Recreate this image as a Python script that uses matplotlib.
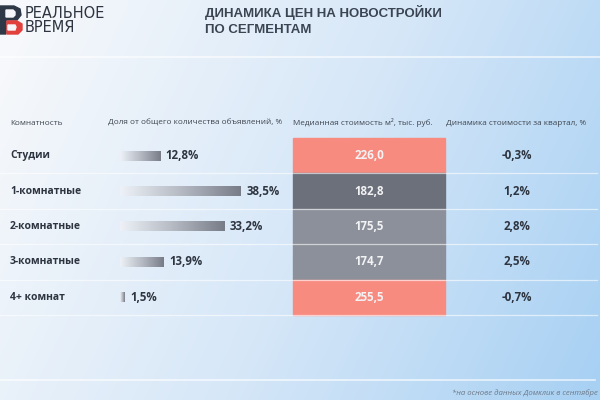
import numpy as np
import matplotlib.pyplot as plt
from matplotlib.colors import LinearSegmentedColormap
from matplotlib.patches import Polygon

# data
rooms = ['Студии', '1-комнатные', '2-комнатные', '3-комнатные', '4+ комнат']
share = [12.8, 38.5, 33.2, 13.9, 1.5]
price = [226.0, 182.8, 175.5, 174.7, 255.5]
change = [-0.3, 1.2, 2.8, 2.5, -0.7]
price_colors = ['#f88b80', '#6b707b', '#8b909a', '#8b909a', '#f88b80']

headers = ['Комнатность', 'Доля от общего количества объявлений, %',
           'Медианная стоимость м², тыс. руб.', 'Динамика стоимости за квартал, %']

def fmt(v, d=1):
    return f'{v:.{d}f}'.replace('.', ',')

plt.rcParams['font.family'] = ['Open Sans', 'DejaVu Sans']
dark = '#2e3540'

fig = plt.figure(figsize=(6, 4), dpi=100)

# background gradient
bg = fig.add_axes([0, 0, 1, 1])
xx, yy = np.meshgrid(np.linspace(0, 1, 300), np.linspace(0, 1, 200))
t = np.clip(0.8 * xx + 0.25 * yy - 0.05, 0, 1)
bg_cmap = LinearSegmentedColormap.from_list('bg', ['#f6f8fb', '#d6e7f8', '#a7d0f3'])
bg.imshow(t, cmap=bg_cmap, extent=(0, 600, 400, 0), aspect='auto', vmin=0, vmax=1)
bg.set_xlim(0, 600)
bg.set_ylim(400, 0)
bg.axis('off')

# logo
bg.add_patch(Polygon([[0, 6], [14, 6], [20, 9], [21, 15], [17, 20], [6, 20], [6, 34], [0, 34]],
                     color='#2f3847'))
bg.add_patch(Polygon([[6, 10], [13, 10], [15, 12], [15, 15], [13, 17], [6, 17]], color='#f4f6f9'))
bg.add_patch(Polygon([[7, 21], [17, 21], [22, 24], [22, 30], [18, 34], [7, 34]], color='#e2403d'))
bg.add_patch(Polygon([[8, 25], [15, 25], [16, 27], [15, 30], [8, 30]], color='#f4f6f9'))
bg.text(25, 13, 'РЕАЛЬНОЕ', fontsize=10.5, color=dark, va='center', family='DejaVu Sans')
bg.text(25, 28, 'ВРЕМЯ', fontsize=10.5, color=dark, va='center', family='DejaVu Sans')

# title
bg.text(205, 13, 'ДИНАМИКА ЦЕН НА НОВОСТРОЙКИ', fontsize=9.5, fontweight='bold',
        color='#3b4452', va='center', family='Liberation Sans')
bg.text(205, 30, 'ПО СЕГМЕНТАМ', fontsize=9.5, fontweight='bold',
        color='#3b4452', va='center', family='Liberation Sans')
bg.plot([0, 600], [57, 57], color='white', lw=1.2, alpha=0.7)

# headers
hx = [10, 108, 293, 446]
for x, h in zip(hx, headers):
    bg.text(x, 125, h, fontsize=5.9, color='#3f4650', va='baseline')

# table rows
top, rh = 138, 35.4
cell_x0, cell_x1 = 293, 445
for i, r in enumerate(rooms):
    y0 = top + i * rh
    yc = y0 + rh / 2
    bg.add_patch(plt.Rectangle((cell_x0, y0), cell_x1 - cell_x0, rh,
                               color=price_colors[i], zorder=2))
    bg.plot([0, 597], [y0 + rh, y0 + rh], color='white', lw=0.9, alpha=0.6, zorder=2.5)
    bg.text(10, yc, r, fontsize=7.5, fontweight='bold', color=dark, va='center')
    bg.text((cell_x0 + cell_x1) / 2, yc, fmt(price[i]), fontsize=8.3, fontweight='bold',
            color='#f3f3f5', va='center', ha='center', zorder=3)
    bg.text(517, yc, fmt(change[i]) + '%', fontsize=8.3, fontweight='bold',
            color=dark, va='center', ha='center')

# share bars
ax = fig.add_axes([120 / 600, 1 - (top + 5 * rh) / 400, 0.3, 5 * rh / 400])
ax.set_xlim(0, 0.3 * 600 / 3.14)
ax.set_ylim(len(rooms) - 0.5, -0.5)
ax.axis('off')
bar_cmap = LinearSegmentedColormap.from_list('bar', ['#eef2f8', '#b5bac3', '#777c87'])
grad = np.linspace(0, 1, 256).reshape(1, -1)
for i, v in enumerate(share):
    ax.imshow(grad, cmap=bar_cmap, extent=(0, v, i + 0.14, i - 0.14), aspect='auto')
    ax.text(v + 1.8, i, fmt(v) + '%', fontsize=8.3, fontweight='bold', color=dark, va='center')

# footnote
bg.plot([0, 595], [380, 380], color='white', lw=1.2, alpha=0.7)
bg.text(598, 393, '*на основе данных Домклик в сентябре', fontsize=5.6, style='italic',
        color='#6d7886', va='center', ha='right')

fig.savefig('out.png', dpi=100)
